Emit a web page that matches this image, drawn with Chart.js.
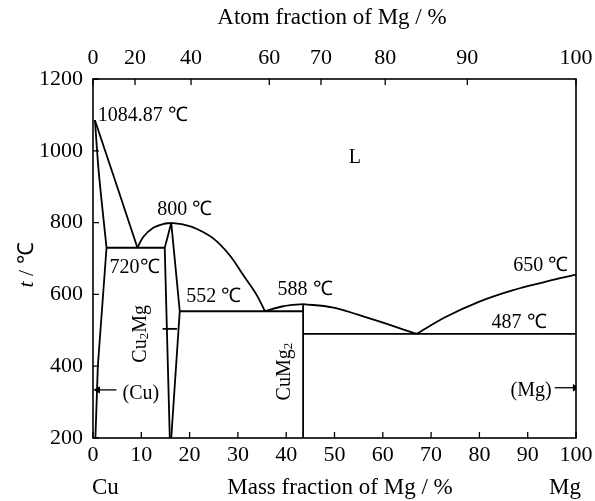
<!DOCTYPE html>
<html>
<head>
<meta charset="utf-8">
<script src="https://cdn.jsdelivr.net/npm/chart.js@4"></script>
<style>
html, body { margin: 0; padding: 0; background: #fff; }
</style>
</head>
<body>
<canvas id="grafico" width="595" height="501"></canvas>
<script>
var atomLabels = ["0", "20", "40", "60", "70", "80", "90", "100"];
var atomPos = [0, 8.7, 20.3, 36.5, 47.2, 60.5, 77.5, 100];

var liqCu = [[0.4, 1085], [4.8, 908], [9.2, 730]];
var solCu = [[0.4, 1085], [1.2, 940], [2.8, 730]];
var solvusCu = [[2.8, 730], [1.0, 400], [0.5, 200]];
var eut730 = [[2.8, 730], [14.85, 730]];
var liqCu2MgIzq = [[9.2, 730], [10.4, 760], [12.4, 785], [14.5, 796], [16.2, 799]];
var liqCu2MgDer = [[16.2, 799], [18.6, 795], [21.4, 783], [24.9, 756], [28.3, 709], [31.1, 654], [33.9, 598], [35.6, 553]];
var cu2mgIzq = [[16.2, 799], [14.85, 730], [15.9, 200]];
var cu2mgDer = [[16.2, 799], [17.96, 553], [16.2, 200]];
var eut552 = [[17.96, 553], [43.5, 553]];
var liqCuMg2Izq = [[35.6, 553], [39.4, 567], [43.5, 573]];
var cuMg2 = [[43.5, 573], [43.5, 200]];
var liqCuMg2Der = [[43.5, 573], [49.5, 564], [55, 543], [61, 517], [67, 490]];
var liqMg = [[67, 490], [73, 537], [80, 580], [87, 612], [94, 636], [100, 655]];
var eut487 = [[43.5, 490], [100, 490]];
var flechaCu = [[1.0, 334], [4.85, 334]];
var flechaMg = [[95.6, 340], [99.8, 340]];
var marcaCu2Mg = [[14.4, 504], [17.4, 504]];

// rotulos: texto, x, y
var rotulos = [
  ["1084.87 ℃", 1.0, 1097, "left"],
  ["L", 54.2, 980, "center"],
  ["800 ℃", 19.0, 837, "center"],
  ["720℃", 8.6, 674, "center"],
  ["552 ℃", 25.0, 593, "center"],
  ["588 ℃", 43.9, 613, "center"],
  ["650 ℃", 92.7, 680, "center"],
  ["487 ℃", 88.2, 521, "center"],
  ["(Mg)", 90.7, 332, "center"],
  ["(Cu)", 9.9, 323, "center"]
];

var serif = "'Liberation Serif', 'Times New Roman', serif";

function pts(arr) {
  return arr.map(function (p) { return { x: p[0], y: p[1] }; });
}

function linea(arr, curva) {
  return {
    data: pts(arr),
    borderColor: "#000",
    borderWidth: 1.8,
    pointRadius: 0,
    fill: false,
    showLine: true,
    tension: curva ? 0.35 : 0
  };
}

function flecha(arr, rot, idx) {
  var d = linea(arr, false);
  d.borderWidth = 1.3;
  d.pointStyle = "triangle";
  d.pointRotation = rot;
  d.pointRadius = arr.map(function (p, i) { return i === idx ? 3 : 0; });
  d.pointBackgroundColor = "#000";
  d.pointBorderColor = "#000";
  return d;
}

// dibuja texto en trozos (cursiva, subindice)
function trozos(ctx, partes, x, y, ang) {
  ctx.save();
  ctx.translate(x, y);
  ctx.rotate(ang);
  var total = 0;
  partes.forEach(function (p) {
    ctx.font = (p.it ? "italic " : "") + p.s + "px " + serif;
    p.w = ctx.measureText(p.t).width;
    total += p.w;
  });
  var cx = -total / 2;
  ctx.textBaseline = "middle";
  ctx.textAlign = "left";
  partes.forEach(function (p) {
    ctx.font = (p.it ? "italic " : "") + p.s + "px " + serif;
    ctx.fillText(p.t, cx, p.dy || 0);
    cx += p.w;
  });
  ctx.restore();
}

var marcas = {
  id: "marcas",
  afterDatasetsDraw: function (chart) {
    var ctx = chart.ctx, a = chart.chartArea, sx = chart.scales.x, sy = chart.scales.y, st = chart.scales.x2;
    ctx.save();
    ctx.strokeStyle = "#000";
    ctx.lineWidth = 1.6;
    ctx.strokeRect(a.left, a.top, a.right - a.left, a.bottom - a.top);
    ctx.lineWidth = 1.3;
    ctx.beginPath();
    sx.ticks.forEach(function (t) {
      var px = sx.getPixelForValue(t.value);
      ctx.moveTo(px, a.bottom); ctx.lineTo(px, a.bottom - 6);
    });
    st.ticks.forEach(function (t) {
      var px = st.getPixelForValue(t.value);
      ctx.moveTo(px, a.top); ctx.lineTo(px, a.top + 6);
    });
    sy.ticks.forEach(function (t) {
      var py = sy.getPixelForValue(t.value);
      ctx.moveTo(a.left, py); ctx.lineTo(a.left + 6, py);
    });
    ctx.stroke();

    ctx.fillStyle = "#000";
    ctx.textBaseline = "middle";
    ctx.font = "20px " + serif;
    rotulos.forEach(function (r) {
      ctx.textAlign = r[3];
      ctx.fillText(r[0], sx.getPixelForValue(r[1]), sy.getPixelForValue(r[2]));
    });

    // fases rotadas
    trozos(ctx, [{ t: "Cu", s: 20 }, { t: "2", s: 13, dy: 4 }, { t: "Mg", s: 20 }],
      sx.getPixelForValue(9.9), sy.getPixelForValue(490), -Math.PI / 2);
    trozos(ctx, [{ t: "CuMg", s: 20 }, { t: "2", s: 13, dy: 4 }],
      sx.getPixelForValue(39.7), sy.getPixelForValue(385), -Math.PI / 2);

    // titulos de ejes
    ctx.font = "23px " + serif;
    ctx.textAlign = "center";
    ctx.fillText("Atom fraction of Mg / %", 332, 18);
    ctx.fillText("Mass fraction of Mg / %", 340, 488);
    ctx.textAlign = "left";
    ctx.fillText("Cu", 92, 488);
    ctx.textAlign = "right";
    ctx.fillText("Mg", 581, 488);
    trozos(ctx, [{ t: "t", s: 22, it: true }, { t: " / ℃", s: 22 }], 27, 265, -Math.PI / 2);
    ctx.restore();
  }
};

var fuenteTicks = { family: serif, size: 22 };

function sinRelleno(s) {
  s.paddingLeft = 0;
  s.paddingRight = 0;
  s.paddingTop = 0;
  s.paddingBottom = 0;
}

new Chart(document.getElementById("grafico"), {
  type: "scatter",
  data: {
    datasets: [
      linea(liqCu, false),
      linea(solCu, true),
      linea(solvusCu, false),
      linea(eut730, false),
      linea(liqCu2MgIzq, true),
      linea(liqCu2MgDer, true),
      linea(cu2mgIzq, false),
      linea(cu2mgDer, false),
      linea(eut552, false),
      linea(liqCuMg2Izq, true),
      linea(cuMg2, false),
      linea(liqCuMg2Der, true),
      linea(liqMg, true),
      linea(eut487, false),
      flecha(flechaCu, 270, 0),
      flecha(flechaMg, 90, 1),
      linea(marcaCu2Mg, false)
    ]
  },
  options: {
    responsive: false,
    animation: false,
    devicePixelRatio: 1,
    layout: { padding: { left: 0, right: 19, top: 0, bottom: 0 } },
    plugins: { legend: { display: false }, tooltip: { enabled: false } },
    scales: {
      x: {
        type: "linear", position: "bottom", min: 0, max: 100,
        ticks: { stepSize: 10, font: fuenteTicks, color: "#000", padding: 4, maxRotation: 0, autoSkip: false },
        grid: { display: false, drawTicks: false },
        border: { display: false },
        afterFit: function (s) { s.height = 63; sinRelleno(s); }
      },
      x2: {
        type: "linear", position: "top", min: 0, max: 100,
        afterBuildTicks: function (s) { s.ticks = atomPos.map(function (v) { return { value: v }; }); },
        ticks: {
          font: fuenteTicks, color: "#000", padding: 8, maxRotation: 0, autoSkip: false,
          callback: function (v, i) { return atomLabels[i]; }
        },
        grid: { display: false, drawTicks: false },
        border: { display: false },
        afterFit: function (s) { s.height = 79; sinRelleno(s); }
      },
      y: {
        min: 200, max: 1200,
        ticks: {
          stepSize: 200, font: fuenteTicks, color: "#000", padding: 10,
          callback: function (v) { return String(v); }
        },
        grid: { display: false, drawTicks: false },
        border: { display: false },
        afterFit: function (s) { s.width = 93; sinRelleno(s); }
      }
    }
  },
  plugins: [marcas]
});
</script>
</body>
</html>
